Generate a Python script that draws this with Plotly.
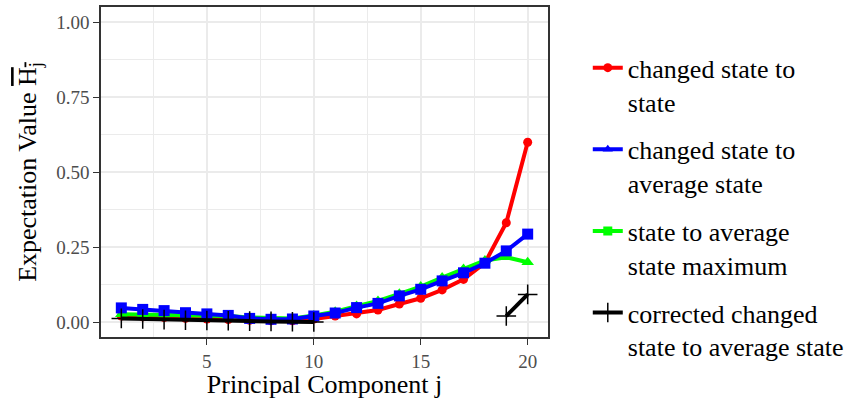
import plotly.graph_objects as go

j = list(range(1, 21))

red_vals = [0.020, 0.017, 0.015, 0.012, 0.010, 0.008, 0.006, 0.004, 0.004, 0.010,
            0.020, 0.027, 0.040, 0.060, 0.079, 0.107, 0.142, 0.197, 0.331, 0.599]
blue_vals = [0.047, 0.042, 0.038, 0.031, 0.027, 0.022, 0.012, 0.009, 0.010, 0.020,
             0.030, 0.048, 0.062, 0.087, 0.109, 0.137, 0.164, 0.196, 0.237, 0.293]
green_vals = [0.026, 0.025, 0.024, 0.024, 0.022, 0.020, 0.015, 0.012, 0.012, 0.022,
              0.034, 0.053, 0.070, 0.094, 0.118, 0.148, 0.177, 0.205, 0.216, 0.199]
black_vals = [0.012, 0.010, 0.008, 0.006, 0.005, 0.004, 0.003, 0.002, 0.001, 0.000,
              None, None, None, None, None, None, None, None, 0.020, 0.092]

names = ["changed state to<br>state",
         "changed state to<br>average state",
         "state to average<br>state maximum",
         "corrected changed<br>state to average state"]
colors = ["#FF0000", "#0000FF", "#00FF00", "#000000"]

FONT = "Liberation Serif, Times New Roman, serif"

fig = go.Figure()

# data traces (draw order: red, green, blue, black)
fig.add_trace(go.Scatter(x=j, y=red_vals, mode="lines+markers", showlegend=False,
                         line=dict(color=colors[0], width=4),
                         marker=dict(symbol="circle", size=9, color=colors[0])))
fig.add_trace(go.Scatter(x=j, y=green_vals, mode="lines+markers", showlegend=False,
                         line=dict(color=colors[2], width=4),
                         marker=dict(symbol="triangle-up", size=11, color=colors[2])))
fig.add_trace(go.Scatter(x=j, y=blue_vals, mode="lines+markers", showlegend=False,
                         line=dict(color=colors[1], width=4),
                         marker=dict(symbol="square", size=11, color=colors[1])))
fig.add_trace(go.Scatter(x=j, y=black_vals, mode="lines+markers", showlegend=False,
                         connectgaps=False,
                         line=dict(color=colors[3], width=4),
                         marker=dict(symbol="cross-thin", size=14,
                                     line=dict(color=colors[3], width=1.5))))

# legend entries
leg_symbols = ["circle", "triangle-up", "square", "cross-thin"]
for i in range(4):
    mk = dict(symbol=leg_symbols[i], size=9, color=colors[i])
    if leg_symbols[i] == "cross-thin":
        mk = dict(symbol="cross-thin", size=14, line=dict(color=colors[i], width=1.5))
    fig.add_trace(go.Scatter(x=[None], y=[None], mode="lines+markers", name=names[i],
                             legendgroup=str(i),
                             line=dict(color=colors[i], width=4), marker=mk))

fig.update_layout(
    width=848, height=399,
    margin=dict(l=101, r=300, t=7, b=62, autoexpand=False),
    paper_bgcolor="white", plot_bgcolor="white",
    font=dict(family=FONT, color="black"),
    legend=dict(x=1.089, y=0.887, xanchor="left", yanchor="top",
                font=dict(size=26, family=FONT, color="black"),
                valign="top", tracegroupgap=11, traceorder="grouped",
                maxheight=399,
                bgcolor="rgba(0,0,0,0)"),
)

axis_common = dict(
    showline=True, mirror=True, linecolor="#333333", linewidth=1.6,
    ticks="outside", ticklen=6, tickcolor="#333333", tickwidth=1.3,
    tickfont=dict(size=19, family=FONT, color="#4d4d4d"),
    showgrid=True, gridcolor="#EBEBEB", gridwidth=1.5,
    zeroline=False,
)

fig.update_xaxes(range=[0.05, 20.95], tick0=0, dtick=5,
                 minor=dict(tick0=0, dtick=2.5, showgrid=True, gridcolor="#EBEBEB", gridwidth=0.8),
                 title=dict(text="Principal Component j", font=dict(size=26, family=FONT),
                            standoff=6),
                 **axis_common)
fig.update_yaxes(range=[-0.05, 1.05], tick0=0, dtick=0.25, tickformat=".2f",
                 minor=dict(tick0=0, dtick=0.125, showgrid=True, gridcolor="#EBEBEB", gridwidth=0.8),
                 title=dict(text="Expectation Value <span style='text-decoration:overline'>H<sub>j</sub></span>",
                            font=dict(size=26, family=FONT), standoff=12),
                 **axis_common)

fig.write_html("out.html")
